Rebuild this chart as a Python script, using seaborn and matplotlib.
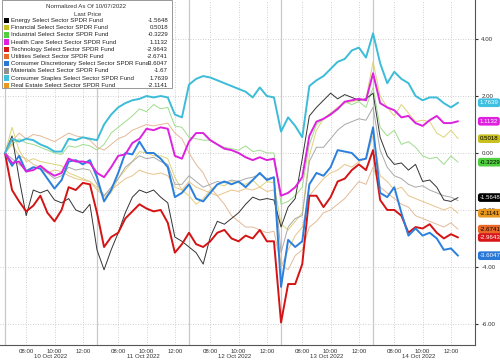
import numpy as np
import pandas as pd
import matplotlib
matplotlib.use("Agg")
import matplotlib.pyplot as plt
import matplotlib.transforms as mtransforms
from matplotlib.patches import Rectangle
import seaborn as sns

# ---- data (normalized as of 10/07/2022, half-hour samples 06:30-12:30) ----
sectors = ["Energy Select Sector SPDR Fund", "Financial Select Sector SPDR Fund",
           "Industrial Select Sector SPDR Fund", "Health Care Select Sector SPDR Fund",
           "Technology Select Sector SPDR Fund", "Utilities Select Sector SPDR Fund",
           "Consumer Discretionary Select Sector SPDR Fund", "Materials Select Sector SPDR Fund",
           "Consumer Staples Select Sector SPDR Fund", "Real Estate Select Sector SPDR Fund"]
last_price = [-1.5648, 0.5018, -0.3229, 1.1132, -2.9643, -2.6741, -3.6047, -1.67, 1.7639, -2.1141]
days = ["10 Oct 2022", "11 Oct 2022", "12 Oct 2022", "13 Oct 2022", "14 Oct 2022"]
half_hours = [6.5, 7.0, 7.5, 8.0, 8.5, 9.0, 9.5, 10.0, 10.5, 11.0, 11.5, 12.0, 12.5]

energy = [0.0, 0.6, -0.9, -2.2, -1.3, -1.4, -1.3, -1.65, -1.75, -1.6, -2.0, -2.1, -1.8,
          -3.4, -4.1, -3.4, -2.8, -2.1, -1.55, -1.3, -1.4, -1.3, -1.55, -1.75, -2.95, -3.1,
          -3.3, -3.5, -3.9, -2.95, -2.4, -2.5, -2.3, -2.1, -1.8, -1.55, -1.65, -1.6, -1.65,
          -2.6, -1.9, -1.6, -0.2, 1.3, 1.6, 1.85, 2.1, 1.9, 2.05, 1.95, 1.85, 1.9,
          2.1, 0.55, -0.1, -0.4, -0.35, -0.6, -0.4, -1.0, -0.95, -1.2, -1.65, -1.7, -1.5648]
financial = [0.0, 0.9, 0.1, -0.3, -0.2, -0.3, -0.35, -0.4, -0.45, -0.7, -0.8, -0.9, -1.0,
             -1.2, -1.55, -1.4, -0.9, -0.6, -0.3, 0.05, 0.0, -0.1, -0.1, -0.2, -0.85, -1.3,
             -1.5, -1.8, -1.6, -1.3, -1.1, -1.15, -1.0, -1.05, -1.1, -0.95, -1.2, -1.0, -1.05,
             -2.5, -2.7, -2.4, -2.1, -0.1, 0.8, 1.2, 1.4, 1.6, 1.75, 1.8, 1.85, 1.9,
             3.2, 2.0, 1.6, 1.3, 1.7, 1.4, 1.1, 1.15, 1.1, 0.7, 0.55, 0.8, 0.5018]
industrial = [0.0, 0.3, 0.5, 0.35, 0.3, 0.2, 0.1, 0.0, -0.05, 0.25, 0.2, 0.3, 0.25,
              0.1, 0.3, 0.7, 0.9, 1.1, 1.3, 1.55, 1.45, 1.7, 1.55, 1.6, 0.95, 0.9,
              0.55, 0.5, 0.45, 0.45, 0.3, 0.2, 0.15, 0.1, 0.25, 0.05, 0.1, 0.0, 0.0,
              -1.8, -1.7, -1.5, -1.2, 0.3, 1.0, 1.2, 1.4, 1.5, 1.8, 1.7, 1.8, 1.6,
              2.3, 0.9, 0.6, 0.8, 0.3, 0.4, 0.2, -0.1, -0.2, -0.15, -0.4, -0.1, -0.3229]
health = [0.0, -0.35, -0.3, -0.65, -0.6, -0.45, -0.65, -0.8, -0.7, -0.2, -0.3, -0.3, -0.35,
          -0.7, -0.85, -0.5, -0.1, -0.05, 0.35, 0.5, 0.85, 0.8, 0.9, 0.85, -0.1, -0.2,
          0.4, 0.7, 0.7, 0.45, 0.3, 0.15, 0.1, 0.0, -0.15, -0.25, -0.15, -0.25, -0.2,
          -1.5, -1.4, -1.2, -0.85, 0.6, 1.1, 1.2, 1.35, 1.55, 1.8, 1.85, 1.9, 1.85,
          2.8, 1.75, 1.6, 1.5, 1.25, 1.3, 1.05, 0.95, 1.15, 1.3, 1.05, 1.05, 1.1132]
tech = [0.0, -1.3, -1.7, -2.05, -1.85, -1.5, -2.1, -2.4, -2.0, -1.2, -1.3, -1.05, -1.1,
        -2.1, -3.3, -2.95, -2.8, -2.3, -2.05, -1.8, -1.95, -2.05, -2.0, -2.45, -3.5, -3.2,
        -2.8, -3.2, -3.3, -3.1, -2.8, -2.7, -3.0, -3.1, -2.9, -3.0, -2.7, -3.1, -3.1,
        -5.95, -4.6, -4.6, -3.9, -1.5, -1.5, -1.9, -1.55, -1.0, -0.9, -0.6, -0.4, -0.6,
        0.1, -1.65, -2.0, -2.0, -2.2, -2.8, -2.6, -2.65, -2.5, -2.8, -3.0, -2.85, -2.9643]
utilities = [0.0, 0.4, 0.7, 0.5, 0.65, 0.6, 0.5, 0.4, 0.55, 0.7, 0.6, 0.55, 0.45,
             0.2, 0.1, 0.3, 0.5, 0.6, 0.8, 0.9, 1.0, 0.95, 1.0, 1.05, 0.7, 0.5,
             0.0, -0.4, -0.7, -1.2, -1.5, -1.8, -2.2, -2.4, -2.6, -2.6, -2.7, -2.8, -2.75,
             -3.9, -4.1, -3.6, -3.4, -2.6, -2.4, -2.1, -2.0, -1.8, -1.6, -1.3, -1.0, -1.1,
             -0.5, -1.2, -1.4, -1.6, -1.8, -1.9, -2.2, -2.3, -2.4, -2.5, -2.6, -2.45, -2.6741]
discretionary = [0.0, -0.45, -0.1, -0.65, -0.5, -0.55, -0.9, -1.25, -0.95, -0.3, -0.25, -0.4, -0.25,
                 -0.85, -1.7, -1.3, -0.7, 0.0, -0.05, 0.4, 0.0, 0.0, -0.2, -0.5, -1.55, -1.4,
                 -1.1, -1.6, -1.7, -1.4, -1.1, -1.0, -1.1, -1.0, -1.2, -0.95, -0.7, -0.95, -0.85,
                 -4.7, -3.05, -3.3, -3.1, -1.1, -0.7, -0.8, -0.5, 0.1, 0.05, 0.0, -0.25, -0.2,
                 0.9, -1.4, -1.55, -1.2, -2.1, -2.9, -2.65, -2.9, -2.8, -3.0, -3.4, -3.35, -3.6047]
materials = [0.0, -0.2, -0.4, -0.6, -0.5, -0.55, -0.7, -0.9, -0.8, -0.5, -0.6, -0.55, -0.6,
             -1.1, -1.5, -1.2, -0.9, -0.5, -0.3, -0.1, -0.2, -0.15, -0.3, -0.4, -1.1, -1.1,
             -0.8, -1.0, -1.2, -1.1, -1.0, -1.05, -0.95, -1.0, -0.9, -0.85, -0.75, -0.9, -0.85,
             -3.5, -2.6, -2.3, -2.2, -0.3, 0.2, 0.2, 0.5, 0.8, 1.0, 1.1, 1.2, 1.15,
             1.6, 0.1, -0.5, -0.8, -0.9, -1.1, -1.2, -1.15, -1.3, -1.4, -1.5, -1.55, -1.67]
staples = [0.0, 0.5, 0.4, 0.5, 0.45, 0.3, 0.2, 0.05, 0.05, 0.5, 0.45, 0.55, 0.5,
           0.45, 1.0, 1.35, 1.6, 1.75, 1.85, 1.9, 2.0, 1.95, 2.0, 1.95, 1.35, 1.25,
           2.4, 2.6, 2.7, 2.65, 2.55, 2.45, 2.35, 2.25, 2.15, 1.95, 2.3, 2.0, 1.95,
           0.75, 1.25, 0.95, 0.55, 2.35, 2.55, 2.7, 2.95, 3.2, 3.3, 3.6, 3.7, 3.35,
           4.2, 3.15, 2.45, 2.85, 2.6, 2.45, 2.0, 1.85, 1.95, 1.95, 1.75, 1.6, 1.7639]
real_estate = [0.0, 0.3, -0.1, -0.2, -0.4, -0.5, -0.7, -0.6, -0.65, -0.8, -0.9, -0.95, -1.0,
               -1.3, -1.5, -1.3, -1.1, -0.9, -0.8, -0.6, -0.7, -0.75, -0.7, -0.8, -1.2, -1.3,
               -1.0, -1.2, -1.3, -1.4, -1.5, -1.4, -1.3, -1.35, -1.25, -1.3, -1.2, -1.35, -1.3,
               -4.0, -3.4, -2.9, -2.6, -1.5, -1.2, -0.9, -0.7, -0.6, -0.4, -0.5, -0.3, -0.2,
               0.6, -0.8, -1.0, -1.3, -1.2, -1.5, -1.6, -1.7, -1.8, -1.9, -2.0, -1.9, -2.1141]

series = [energy, financial, industrial, health, tech, utilities,
          discretionary, materials, staples, real_estate]
legend_colors = ["#000000", "#c8c020", "#50d040", "#e020e0", "#d81818", "#e86828",
                 "#2878d8", "#909090", "#40c0e0", "#e89820"]
line_colors = ["#333333", "#dcd37a", "#9fdc8c", "#dd22dd", "#d41414", "#e3b999",
               "#2a80dc", "#a8a8a8", "#3cbcd8", "#e8c48a"]
line_widths = [0.7, 0.7, 0.7, 1.4, 1.4, 0.7, 1.4, 0.7, 1.4, 0.7]
label_text = ["white", "black", "black", "white", "white", "black",
              "white", "white", "white", "black"]

# trading-session axis: 6.5 h per day, days glued together
pos = [d * 6.5 + (h - 6.5) for d in range(len(days)) for h in half_hours]

sns.set_style("white")
plt.rcParams["font.family"] = ["Liberation Sans", "DejaVu Sans"]

fig = plt.figure(figsize=(5, 3.6), dpi=100)
ax = fig.add_axes([0, 15 / 360, 475 / 500, 345 / 360])

draw_order = [1, 2, 5, 9, 7, 0, 4, 6, 3, 8]
for i in draw_order:
    sns.lineplot(x=pos, y=series[i], color=line_colors[i], lw=line_widths[i], ax=ax,
                 zorder=3 if line_widths[i] > 1 else 2)

ax.set_xlim(-0.35, 33.2)
ax.set_ylim(-6.74, 5.37)

# y axis on the right
ax.yaxis.tick_right()
yt = [-6, -4, -2, 0, 2, 4]
ax.set_yticks(yt)
ax.set_yticklabels([f"{v:.2f}" for v in yt], fontsize=4.4, color="#333333")
for v in yt:
    ax.axhline(v, color="#c0c0c0", lw=0.6, ls=(0, (1, 2)), zorder=1)

# x axis: 08:00 / 10:00 / 12:00 per day
xt, xl = [], []
for d in range(len(days)):
    for h, lab in [(8, "08:00"), (10, "10:00"), (12, "12:00")]:
        xt.append(d * 6.5 + h - 6.5)
        xl.append(lab)
        ax.axvline(d * 6.5 + h - 6.5, color="#c0c0c0", lw=0.6, ls=(0, (1, 2)), zorder=1)
    ax.axvline(d * 6.5, color="#c8c8c8", lw=0.9, zorder=1)
ax.set_xticks(xt)
ax.set_xticklabels(xl, fontsize=4.4, color="#333333")
ax.set_xticks([d * 6.5 + h - 6.5 for d in range(len(days)) for h in [7, 9, 11]], minor=True)
ax.tick_params(axis="x", which="both", length=2, pad=1, color="#555555")
ax.tick_params(axis="y", length=2.5, pad=2, color="#333333")

trans = mtransforms.blended_transform_factory(ax.transData, ax.transAxes)
for d, lab in enumerate(days):
    ax.text(d * 6.5 + 3.25, -0.034, lab, transform=trans, ha="center", va="center",
            fontsize=4.4, color="#333333")

for s in ["left", "top"]:
    ax.spines[s].set_visible(False)
ax.spines["right"].set_color("#555555")
ax.spines["bottom"].set_color("#555555")
ax.spines["right"].set_linewidth(0.8)
ax.spines["bottom"].set_linewidth(0.8)

# last-value tags on the right edge (materials tag sits hidden under energy)
tag_trans = mtransforms.blended_transform_factory(ax.transAxes, ax.transData)
for i in [8, 3, 1, 2, 0, 9, 5, 4, 6]:
    ax.text(1.01, last_price[i], f"{last_price[i]:.4f}", transform=tag_trans,
            ha="left", va="center", fontsize=4.4, color=label_text[i], clip_on=False,
            zorder=6,
            bbox=dict(boxstyle="round,pad=0.3,rounding_size=0.4", fc=legend_colors[i],
                      ec="none"))

# legend box in the upper left
def fx(x):
    return x / 500


def fy(y):
    return 1 - y / 360


fig.add_artist(Rectangle((fx(2), fy(88)), fx(170), 88 / 360, transform=fig.transFigure,
                         fc="white", ec="#888888", lw=0.6, zorder=5))
fig.text(fx(86), fy(6.5), "Normalized As Of 10/07/2022", ha="center", va="center",
         fontsize=4.4, color="#333333", zorder=6)
fig.text(fx(88), fy(14), "Last Price", ha="center", va="center",
         fontsize=4.4, color="#333333", zorder=6)
for k, name in enumerate(sectors):
    yy = 20.5 + k * 7.2
    fig.add_artist(Rectangle((fx(3.5), fy(yy + 2.6)), fx(5.2), 5.2 / 360,
                             transform=fig.transFigure, fc=legend_colors[k], ec="none",
                             zorder=6))
    fig.text(fx(11), fy(yy), name, ha="left", va="center", fontsize=4.4,
             color="#222222", zorder=6)
    val = f"{last_price[k]}" if k == 7 else f"{last_price[k]:.4f}"
    fig.text(fx(168), fy(yy), val, ha="right", va="center", fontsize=4.4,
             color="#222222", zorder=6)

fig.savefig("out.png", dpi=100)
